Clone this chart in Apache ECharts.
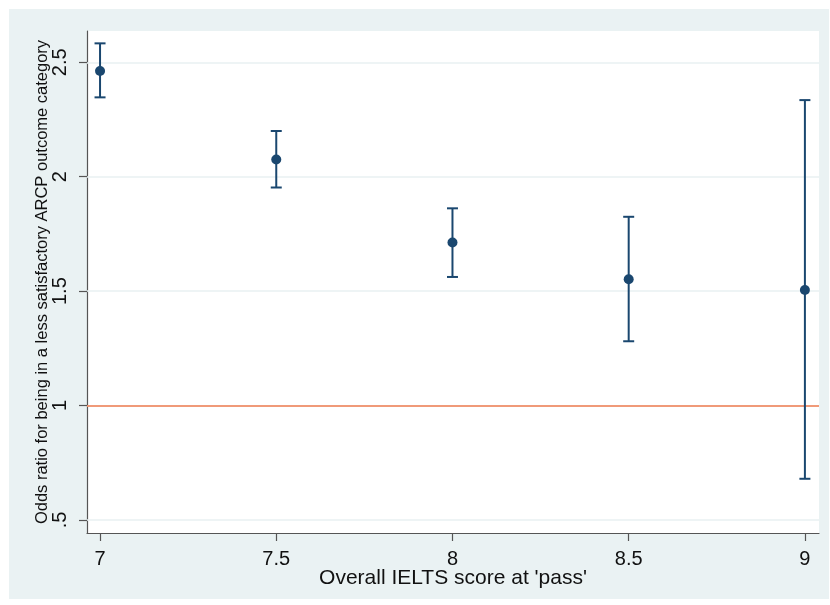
<!DOCTYPE html>
<html><head><meta charset="utf-8">
<script src="https://cdn.jsdelivr.net/npm/echarts@6/dist/echarts.min.js"></script>
<style>html,body{margin:0;padding:0;background:#fff;}#c{width:830px;height:605px;}</style>
</head><body><div id="c"></div>
<script>
const scores = [7, 7.5, 8, 8.5, 9];
const oddsRatio = [2.462, 2.075, 1.713, 1.552, 1.505];
const ciLower = [2.347, 1.953, 1.562, 1.281, 0.680];
const ciUpper = [2.583, 2.200, 1.862, 1.825, 2.335];
const xTicks = [7, 7.5, 8, 8.5, 9];
const yTicks = [0.5, 1, 1.5, 2, 2.5];
const yTickLabels = ['.5', '1', '1.5', '2', '2.5'];
const refValue = 1;
const xTitle = "Overall IELTS score at 'pass'";
const yTitle = 'Odds ratio for being in a less satisfactory ARCP outcome category';

const navy = '#1a476f';
const font = 'Liberation Sans, Arial, sans-serif';
const chart = echarts.init(document.getElementById('c'), null, {renderer: 'canvas'});

const errData = scores.map((s, i) => [s, ciLower[i], ciUpper[i]]);
const ptData = scores.map((s, i) => [s, oddsRatio[i]]);

chart.setOption({
  animation: false,
  backgroundColor: '#fff',
  graphic: [{type: 'rect', z: -10, shape: {x: 9, y: 9, width: 820, height: 590}, style: {fill: '#eaf2f3'}}],
  grid: {left: 87, right: 11, top: 31, bottom: 72, show: true, backgroundColor: '#fff', borderWidth: 0},
  xAxis: {
    type: 'value', min: 6.963, max: 9.04,
    name: xTitle, nameLocation: 'middle', nameGap: 35, nameMoveOverlap: false,
    nameTextStyle: {fontFamily: font, fontSize: 21, color: '#111'},
    axisLine: {show: true, onZero: false, lineStyle: {color: '#555', width: 1.2}},
    axisTick: {show: true, length: 8, customValues: xTicks, lineStyle: {color: '#555', width: 1.2}},
    axisLabel: {customValues: xTicks, margin: 16, fontFamily: font, fontSize: 20, color: '#111',
      formatter: v => String(v)},
    splitLine: {show: false}
  },
  yAxis: {
    type: 'value', min: 0.443, max: 2.637,
    name: yTitle, nameLocation: 'middle', nameGap: 36, nameRotate: 90, nameMoveOverlap: false,
    nameTextStyle: {fontFamily: font, fontSize: 16.5, color: '#111'},
    axisLine: {show: true, onZero: false, lineStyle: {color: '#555', width: 1.2}},
    axisTick: {show: true, length: 8, customValues: yTicks, lineStyle: {color: '#555', width: 1.2}},
    axisLabel: {customValues: yTicks, rotate: 90, margin: 17, fontFamily: font, fontSize: 20, color: '#111',
      formatter: v => yTickLabels[yTicks.indexOf(v)] !== undefined ? yTickLabels[yTicks.indexOf(v)] : ''},
    splitLine: {show: false}
  },
  series: [
    {
      type: 'line', data: [], silent: true, z: 1,
      markLine: {
        z: 1, symbol: 'none', silent: true, label: {show: false},
        lineStyle: {type: 'solid', color: '#e9f1f2', width: 1.5},
        data: yTicks.map(v => ({yAxis: v}))
      }
    },
    {
      type: 'line', data: [], silent: true, z: 2,
      markLine: {
        z: 2, symbol: 'none', silent: true, label: {show: false},
        lineStyle: {type: 'solid', color: '#f07d4f', width: 1.5},
        data: [{yAxis: refValue}]
      }
    },
    {
      type: 'custom', z: 10,
      data: errData,
      renderItem: function (params, api) {
        const x = api.value(0);
        const lo = api.coord([x, api.value(1)]);
        const hi = api.coord([x, api.value(2)]);
        const hw = 5.5;
        const st = {stroke: navy, lineWidth: 2};
        return {type: 'group', children: [
          {type: 'line', shape: {x1: lo[0], y1: lo[1], x2: hi[0], y2: hi[1]}, style: st},
          {type: 'line', shape: {x1: lo[0] - hw, y1: lo[1], x2: lo[0] + hw, y2: lo[1]}, style: st},
          {type: 'line', shape: {x1: hi[0] - hw, y1: hi[1], x2: hi[0] + hw, y2: hi[1]}, style: st}
        ]};
      }
    },
    {
      type: 'scatter', z: 11, data: ptData, symbol: 'circle', symbolSize: 10,
      itemStyle: {color: navy, opacity: 1}
    }
  ]
});
</script></body></html>
